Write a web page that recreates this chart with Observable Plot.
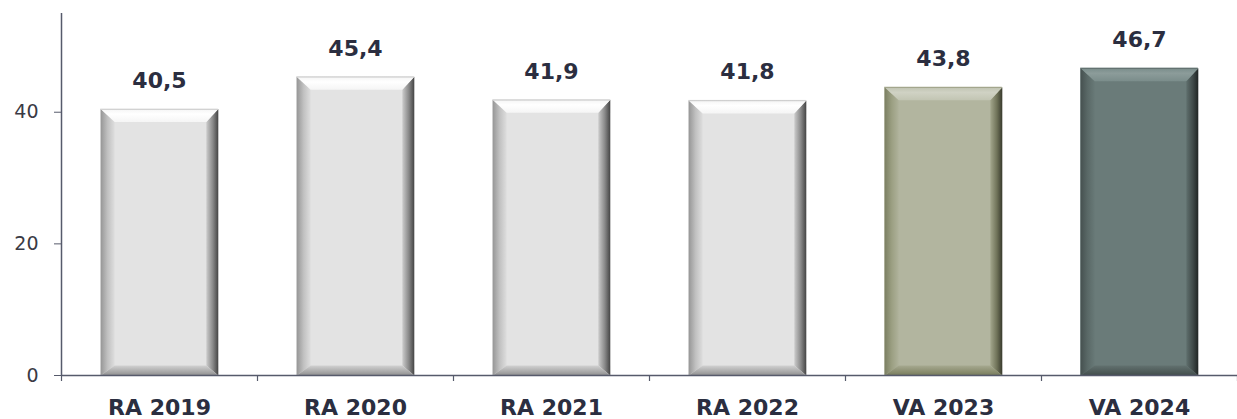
<!DOCTYPE html>
<html>
<head>
<meta charset="utf-8">
<script src="https://cdn.jsdelivr.net/npm/d3@7"></script>
<script src="https://cdn.jsdelivr.net/npm/@observablehq/plot@0.6"></script>
<style>
  html, body { margin: 0; padding: 0; background: #fff; }
  #chart svg { display: block; }
</style>
</head>
<body>
<div id="chart"></div>
<script>
const categories = ["RA 2019", "RA 2020", "RA 2021", "RA 2022", "VA 2023", "VA 2024"];
const values = [40.5, 45.4, 41.9, 41.8, 43.8, 46.7];
const barColors = ["#e3e3e3", "#e3e3e3", "#e3e3e3", "#e3e3e3", "#b2b59f", "#6a7b79"];
const yTicks = [0, 20, 40];

const W = 1237, H = 419, mT = 13, mB = 44, mL = 61, mR = 0;
const yMax = 55;
const yPerPx = yMax / (H - mT - mB);
const xPerPx = 6 / (W - mL - mR);

const data = categories.map((c, i) => ({i, cat: c, v: values[i], color: barColors[i]}));

// bevel sizes (in pixels -> converted to scale units)
const bx = 14 * xPerPx, bxR = 12 * xPerPx, byT = 13 * yPerPx, byB = 10 * yPerPx;
const polys = [];
data.forEach(d => {
  const x1 = d.i + 0.2, x2 = d.i + 0.8, v = d.v;
  const add = (side, pts) => pts.forEach(([x, y]) => polys.push({id: `${d.i}-${side}`, x, y, fill: `url(#g${d.i}${side})`}));
  add("L", [[x1, 0], [x1, v], [x1 + bx, v - byT], [x1 + bx, byB]]);
  add("R", [[x2, 0], [x2, v], [x2 - bxR, v - byT], [x2 - bxR, byB]]);
  add("B", [[x1, 0], [x2, 0], [x2 - bxR, byB], [x1 + bx, byB]]);
  add("T", [[x1, v], [x2, v], [x2 - bxR, v - byT], [x1 + bx, v - byT]]);
});

const fmt = v => v.toFixed(1).replace(".", ",");

const plot = Plot.plot({
  width: W, height: H,
  marginTop: mT, marginBottom: mB, marginLeft: mL, marginRight: mR,
  style: {fontFamily: "'DejaVu Sans', Verdana, sans-serif", background: "#fff", overflow: "visible"},
  x: {type: "linear", domain: [0, 6]},
  y: {domain: [0, yMax]},
  marks: [
    Plot.rectY(data, {x1: d => d.i + 0.2, x2: d => d.i + 0.8, y1: 0, y2: "v", fill: "color"}),
    Plot.line(polys, {x: "x", y: "y", z: "id", fill: "fill", stroke: "none", curve: "linear-closed"}),
    Plot.ruleY([0], {stroke: "#565a6b", strokeWidth: 1.5}),
    Plot.ruleX([0], {y1: 0, y2: yMax, stroke: "#565a6b", strokeWidth: 1.5}),
    Plot.axisY(yTicks, {tickSize: 7, tickPadding: 16, fontSize: 19, color: "#3a3a44", stroke: "#565a6b", label: null}),
    Plot.axisX(d3.range(0, 7), {tickSize: 6, tickFormat: () => "", stroke: "#565a6b", strokeWidth: 1.2, label: null}),
    Plot.axisX(categories.map((c, i) => i + 0.5), {tickSize: 0, tickPadding: 24, tickFormat: d => categories[Math.floor(d)], fontSize: 22, fontWeight: "bold", fill: "#2b2e40", label: null}),
    Plot.text(data, {x: d => d.i + 0.5, y: "v", text: d => fmt(d.v), dy: -28, fontSize: 22, fontWeight: "bold", fill: "#2b2e40"})
  ]
});

// gradients for the bevel effect
const svg = d3.select(plot.tagName === "svg" ? plot : plot.querySelector("svg"));
const defs = svg.insert("defs", ":first-child");
function grad(id, dir, stops) {
  const g = defs.append("linearGradient").attr("id", id)
    .attr("x1", 0).attr("y1", 0)
    .attr("x2", dir === "h" ? 1 : 0).attr("y2", dir === "v" ? 1 : 0);
  stops.forEach(([o, c]) => g.append("stop").attr("offset", o).attr("stop-color", c));
}
data.forEach(d => {
  const base = d3.hsl(d.color);
  const light = k => d3.hsl(base.h, base.s, Math.min(1, base.l + k)).formatHex();
  const dark = k => d3.hsl(base.h, base.s, Math.max(0, base.l * k)).formatHex();
  grad(`g${d.i}T`, "v", [[0, dark(0.8)], [0.1, light(0.08)], [0.4, light(0.13)], [1, light(0.07)]]);
  grad(`g${d.i}L`, "h", [[0, dark(0.66)], [0.5, dark(0.85)], [1, dark(0.98)]]);
  grad(`g${d.i}R`, "h", [[0, dark(0.9)], [0.55, dark(0.6)], [1, dark(0.3)]]);
  grad(`g${d.i}B`, "v", [[0, dark(0.92)], [0.7, dark(0.72)], [1, dark(0.62)]]);
});

document.getElementById("chart").appendChild(plot);
</script>
</body>
</html>
